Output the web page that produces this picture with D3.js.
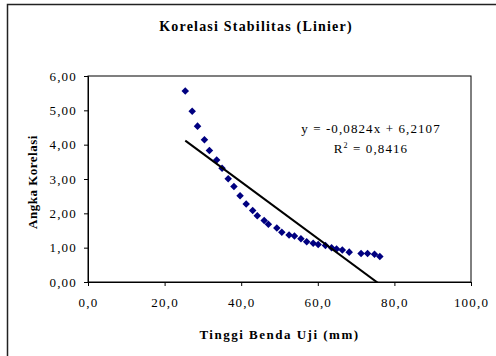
<!DOCTYPE html>
<html>
<head>
<meta charset="utf-8">
<script src="https://cdn.jsdelivr.net/npm/d3@7"></script>
<style>
  html, body { margin: 0; padding: 0; background: #fff; }
  svg { display: block; }
  text { font-family: "Liberation Serif", "Times New Roman", serif; fill: #000; }
</style>
</head>
<body>
<script>
// Tinggi benda uji (mm) vs. angka korelasi stabilitas
const tinggi = [25.4, 27.2, 28.6, 30.4, 31.7, 33.6, 35.0, 36.6, 38.1, 39.7, 41.3,
  43.0, 44.2, 46.0, 47.1, 49.3, 50.6, 52.5, 53.9, 55.6, 57.1, 58.8, 60.1, 62.0,
  63.6, 64.9, 66.4, 68.2, 71.3, 73.0, 74.8, 76.2];
const korelasi = [5.56, 4.97, 4.54, 4.14, 3.83, 3.55, 3.31, 3.01, 2.78, 2.51, 2.27,
  2.08, 1.93, 1.79, 1.68, 1.57, 1.45, 1.37, 1.34, 1.26, 1.17, 1.13, 1.09, 1.06,
  1.00, 0.96, 0.93, 0.87, 0.83, 0.83, 0.81, 0.74];

// Linear trend line coefficients
const slope = -0.0824;
const intercept = 6.2107;
const rSquared = 0.8416;

const xTicks = [0, 20, 40, 60, 80, 100];
const yTicks = [0, 1, 2, 3, 4, 5, 6];

const chartTitle = "Korelasi Stabilitas (Linier)";
const xTitle = "Tinggi Benda Uji (mm)";
const yTitle = "Angka Korelasi";

const W = 496, H = 356;
const plot = { left: 88, top: 76, right: 471, bottom: 282 };

const fmt = (d, n) => d.toFixed(n).replace(".", ",");

const svg = d3.select("body").append("svg").attr("width", W).attr("height", H);

// outer chart frame
svg.append("rect")
  .attr("x", 7.5).attr("y", 4.5)
  .attr("width", 520).attr("height", 380)
  .attr("fill", "#fff").attr("stroke", "#222").attr("stroke-width", 1.5);

const x = d3.scaleLinear().domain([0, 100]).range([plot.left, plot.right]);
const y = d3.scaleLinear().domain([0, 6]).range([plot.bottom, plot.top]);

// plot area
svg.append("rect")
  .attr("x", plot.left).attr("y", plot.top)
  .attr("width", plot.right - plot.left).attr("height", plot.bottom - plot.top)
  .attr("fill", "#fff").attr("stroke", "#000").attr("stroke-width", 1);

const xAxis = svg.append("g")
  .attr("transform", `translate(0,${plot.bottom})`)
  .call(d3.axisBottom(x).tickValues(xTicks).tickSize(4).tickPadding(12)
    .tickFormat(d => fmt(d, 1)));
const yAxis = svg.append("g")
  .attr("transform", `translate(${plot.left},0)`)
  .call(d3.axisLeft(y).tickValues(yTicks).tickSize(4).tickPadding(7)
    .tickFormat(d => fmt(d, 2)));

[xAxis, yAxis].forEach(g => {
  g.select(".domain").attr("stroke", "#000").attr("stroke-width", 1);
  g.selectAll(".tick line").attr("stroke", "#000");
  g.selectAll(".tick text")
    .style("font-family", '"Liberation Serif", serif')
    .style("font-size", "13px")
    .style("letter-spacing", "1.2px")
    .attr("fill", "#000");
});

// data points (diamonds)
const points = tinggi.map((t, i) => [t, korelasi[i]]);
const diamond = d3.symbol().type(d3.symbolDiamond2).size(36);
svg.append("g").selectAll("path")
  .data(points)
  .join("path")
  .attr("d", diamond)
  .attr("transform", d => `translate(${x(d[0])},${y(d[1])})`)
  .attr("fill", "#000080");

// trend line over the data range, clipped to the plot area
svg.append("clipPath").attr("id", "plotClip")
  .append("rect")
  .attr("x", plot.left).attr("y", plot.top)
  .attr("width", plot.right - plot.left).attr("height", plot.bottom - plot.top);
const x0 = d3.min(tinggi), x1 = d3.max(tinggi);
svg.append("line")
  .attr("clip-path", "url(#plotClip)")
  .attr("x1", x(x0)).attr("y1", y(slope * x0 + intercept))
  .attr("x2", x(x1)).attr("y2", y(slope * x1 + intercept))
  .attr("stroke", "#000").attr("stroke-width", 2);

// equation label
const eq = svg.append("g").style("font-size", "13px").style("letter-spacing", "1.1px");
eq.append("text")
  .attr("x", 371).attr("y", 133).attr("text-anchor", "middle")
  .text(`y = ${fmt(slope, 4)}x + ${fmt(intercept, 4)}`);
const r2 = eq.append("text")
  .attr("x", 371).attr("y", 153).attr("text-anchor", "middle");
r2.append("tspan").text("R");
r2.append("tspan").attr("dy", -5).style("font-size", "8px").text("2");
r2.append("tspan").attr("dy", 5).text(` = ${fmt(rSquared, 4)}`);

// titles
svg.append("text")
  .attr("x", 256).attr("y", 31).attr("text-anchor", "middle")
  .style("font-size", "14px").style("font-weight", "bold").style("letter-spacing", "1.2px")
  .text(chartTitle);

svg.append("text")
  .attr("x", (plot.left + plot.right) / 2).attr("y", 339).attr("text-anchor", "middle")
  .style("font-size", "13px").style("font-weight", "bold").style("letter-spacing", "1.5px")
  .text(xTitle);

svg.append("text")
  .attr("transform", "translate(37,182) rotate(-90)")
  .attr("text-anchor", "middle")
  .style("font-size", "13px").style("font-weight", "bold").style("letter-spacing", "0.5px")
  .text(yTitle);
</script>
</body>
</html>
